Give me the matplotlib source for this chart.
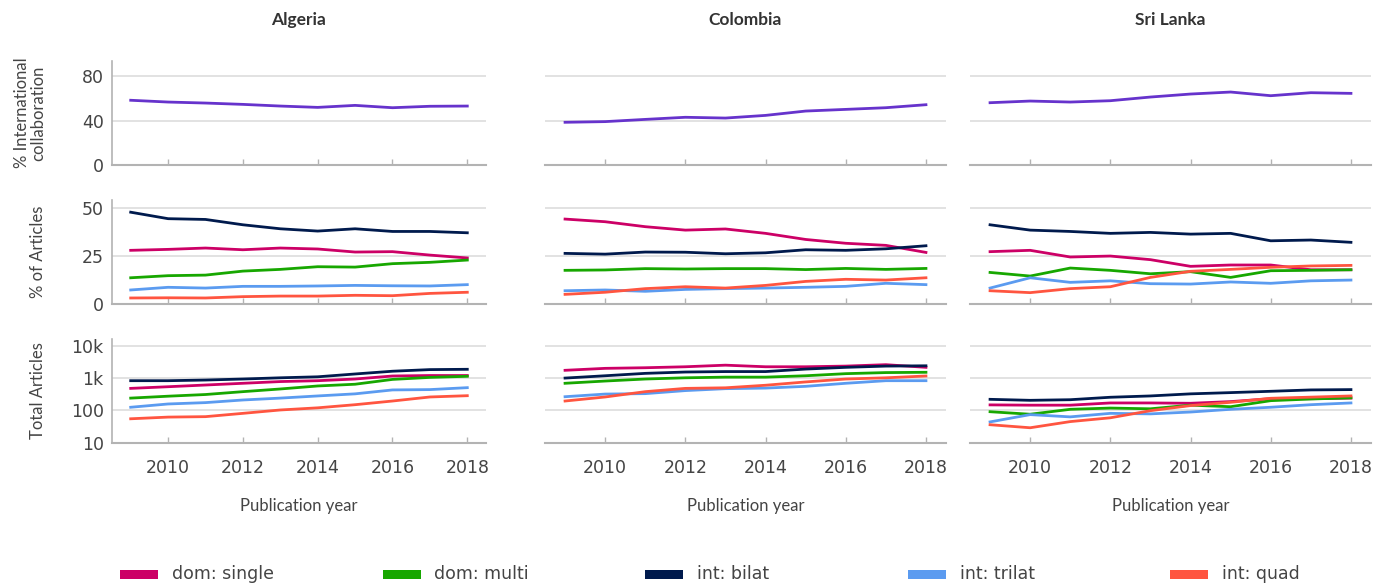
import numpy as np
import matplotlib.pyplot as plt
from matplotlib.patches import Rectangle
from matplotlib.ticker import FixedLocator, FixedFormatter

# publication years shared by every panel
years = np.arange(2009, 2019)
countries = ['Algeria', 'Colombia', 'Sri Lanka']

# % international collaboration per country
intl_collab = {
    'Algeria':   [58.2, 56.6, 55.7, 54.5, 53.0, 51.8, 53.6, 51.5, 52.8, 53.0],
    'Colombia':  [38.4, 39.0, 41.0, 42.9, 42.2, 44.6, 48.5, 50.0, 51.5, 54.2],
    'Sri Lanka': [56.0, 57.5, 56.6, 57.8, 61.1, 63.8, 65.6, 62.3, 65.0, 64.4],
}

# % of articles by collaboration type
pct_single = {
    'Algeria':   [28.0, 28.5, 29.2, 28.3, 29.2, 28.7, 27.1, 27.3, 25.5, 24.0],
    'Colombia':  [44.4, 43.0, 40.4, 38.6, 39.2, 36.9, 33.7, 31.7, 30.6, 26.9],
    'Sri Lanka': [27.3, 28.0, 24.5, 25.0, 23.1, 19.6, 20.3, 20.3, 17.8, 17.8],
}
pct_multi = {
    'Algeria':   [13.6, 14.7, 15.0, 17.1, 18.0, 19.4, 19.2, 21.0, 21.7, 22.9],
    'Colombia':  [17.5, 17.7, 18.4, 18.2, 18.4, 18.4, 17.9, 18.5, 18.0, 18.5],
    'Sri Lanka': [16.4, 14.5, 18.7, 17.5, 15.7, 16.8, 13.8, 17.3, 17.5, 17.8],
}
pct_bilat = {
    'Algeria':   [48.0, 44.6, 44.2, 41.4, 39.3, 38.1, 39.3, 37.9, 37.9, 37.2],
    'Colombia':  [26.4, 26.0, 27.1, 27.0, 26.2, 26.7, 28.3, 28.0, 28.8, 30.4],
    'Sri Lanka': [41.4, 38.6, 37.9, 36.9, 37.4, 36.5, 36.9, 33.0, 33.4, 32.2],
}
pct_trilat = {
    'Algeria':   [7.2, 8.6, 8.2, 9.1, 9.1, 9.3, 9.6, 9.4, 9.3, 10.0],
    'Colombia':  [6.8, 7.2, 6.5, 7.5, 7.9, 8.2, 8.6, 9.1, 10.7, 10.0],
    'Sri Lanka': [8.2, 13.6, 11.2, 12.0, 10.5, 10.3, 11.4, 10.7, 12.0, 12.4],
}
pct_quad = {
    'Algeria':   [3.0, 3.1, 3.0, 3.7, 4.0, 4.0, 4.4, 4.2, 5.4, 6.0],
    'Colombia':  [4.9, 6.0, 7.9, 8.9, 8.2, 9.6, 11.7, 12.8, 12.4, 13.6],
    'Sri Lanka': [6.8, 5.8, 7.9, 8.9, 13.8, 17.0, 18.0, 19.1, 19.8, 20.1],
}

# total articles by collaboration type
tot_single = {
    'Algeria':   [480, 540, 610, 690, 780, 830, 935, 1160, 1200, 1200],
    'Colombia':  [1740, 2000, 2090, 2240, 2510, 2240, 2240, 2350, 2600, 2150],
    'Sri Lanka': [148, 145, 145, 170, 170, 166, 187, 230, 230, 240],
}
tot_multi = {
    'Algeria':   [240, 275, 310, 380, 460, 570, 645, 910, 1050, 1135],
    'Colombia':  [690, 810, 935, 1020, 1070, 1070, 1180, 1370, 1480, 1510],
    'Sri Lanka': [91, 76, 108, 118, 112, 145, 130, 200, 225, 245],
}
tot_bilat = {
    'Algeria':   [830, 830, 870, 935, 1020, 1095, 1340, 1630, 1830, 1870],
    'Colombia':  [1000, 1180, 1400, 1540, 1590, 1590, 1900, 2150, 2350, 2400],
    'Sri Lanka': [220, 205, 214, 255, 280, 325, 355, 390, 430, 440],
}
tot_trilat = {
    'Algeria':   [125, 158, 174, 210, 240, 280, 325, 430, 440, 505],
    'Colombia':  [265, 320, 330, 410, 470, 490, 555, 690, 830, 830],
    'Sri Lanka': [44, 74, 63, 81, 78, 89, 108, 125, 150, 170],
}
tot_quad = {
    'Algeria':   [55, 62, 64, 81, 103, 120, 150, 195, 260, 285],
    'Colombia':  [195, 260, 380, 480, 500, 600, 760, 935, 1020, 1160],
    'Sri Lanka': [36, 29, 45, 59, 98, 141, 178, 237, 257, 280],
}

series_names = ['dom: single', 'dom: multi', 'int: bilat', 'int: trilat', 'int: quad']
series_colors = ['#CC0066', '#17A700', '#001A4D', '#5B9BF0', '#FF5540']
pct_series = [pct_single, pct_multi, pct_bilat, pct_trilat, pct_quad]
tot_series = [tot_single, tot_multi, tot_bilat, tot_trilat, tot_quad]
intl_color = '#6633CC'

W, H = 1373, 586
TEXT = '#444444'
SPINE = '#B3B3B3'
GRID = '#DDDDDD'
NARROW = ['Liberation Sans Narrow', 'DejaVu Sans']
plt.rcParams['font.family'] = ['Lato', 'DejaVu Sans']

fig = plt.figure(figsize=(W / 100, H / 100), dpi=100)

# pixel boxes for each row / column of panels
rows = [(61, 165), (200, 303.7), (339, 442.7)]
cols = [(112, 486), (545, 946), (970, 1371)]


def add_ax(r, c):
    top, bot = rows[r]
    left, right = cols[c]
    return fig.add_axes([left / W, 1 - bot / H, (right - left) / W, (bot - top) / H])


def style(ax, c, bottom_row):
    ax.set_xlim(2008.5, 2018.5)
    ax.set_xticks([2010, 2012, 2014, 2016, 2018])
    for s in ['top', 'right']:
        ax.spines[s].set_visible(False)
    ax.spines['bottom'].set_color(SPINE)
    ax.spines['bottom'].set_linewidth(1.5)
    ax.spines['left'].set_color(SPINE)
    ax.spines['left'].set_linewidth(1.2)
    if c > 0:
        ax.spines['left'].set_visible(False)
    ax.grid(axis='y', color=GRID, lw=1.2)
    ax.set_axisbelow(True)
    ax.tick_params(axis='x', direction='in', length=4, color=SPINE, width=1,
                   labelbottom=bottom_row, labelsize=12.5, labelcolor=TEXT, pad=12)
    ax.tick_params(axis='y', length=0, labelleft=(c == 0), labelsize=12.5,
                   labelcolor=TEXT, pad=6)
    for lab in ax.get_xticklabels() + ax.get_yticklabels():
        lab.set_family(NARROW)


for c, name in enumerate(countries):
    # row 1: share of international collaboration
    ax = add_ax(0, c)
    ax.plot(years, intl_collab[name], color=intl_color, lw=2)
    ax.set_ylim(0, 93.5)
    ax.set_yticks([0, 40, 80])
    style(ax, c, False)
    ax.set_title(name, fontsize=12.5, fontweight='bold', color='#333333', pad=26)

    # row 2: share of articles by type
    ax = add_ax(1, c)
    for vals, col in zip(pct_series, series_colors):
        ax.plot(years, vals[name], color=col, lw=2)
    ax.set_ylim(0, 54.4)
    ax.set_yticks([0, 25, 50])
    style(ax, c, False)

    # row 3: article counts, log scale
    ax = add_ax(2, c)
    for vals, col in zip(tot_series, series_colors):
        ax.plot(years, vals[name], color=col, lw=2)
    ax.set_yscale('log')
    ax.set_ylim(10, 16200)
    ax.yaxis.set_major_locator(FixedLocator([10, 100, 1000, 10000]))
    ax.yaxis.set_major_formatter(FixedFormatter(['10', '100', '1k', '10k']))
    ax.yaxis.set_minor_locator(FixedLocator([]))
    style(ax, c, True)

    left, right = cols[c]
    fig.text((left + right) / 2 / W, 1 - 506 / H, 'Publication year',
             ha='center', va='center', fontsize=12, color=TEXT)

# row labels
fig.text(30 / W, 1 - 113 / H, '% International\ncollaboration', rotation=90,
         ha='center', va='center', fontsize=12, color=TEXT, linespacing=1.0)
fig.text(38 / W, 1 - 252 / H, '% of Articles', rotation=90,
         ha='center', va='center', fontsize=12, color=TEXT)
fig.text(38 / W, 1 - 391 / H, 'Total Articles', rotation=90,
         ha='center', va='center', fontsize=12, color=TEXT)

# legend row along the bottom
for i, (lab, col) in enumerate(zip(series_names, series_colors)):
    x0 = 120 + i * 262.5
    fig.add_artist(Rectangle((x0 / W, 1 - 578.5 / H), 38 / W, 9 / H,
                             transform=fig.transFigure, color=col, lw=0))
    fig.text((x0 + 52) / W, 1 - 574 / H, lab, ha='left', va='center',
             fontsize=12.5, color=TEXT, family=NARROW)

fig.savefig('out.png', dpi=100, facecolor='white')
